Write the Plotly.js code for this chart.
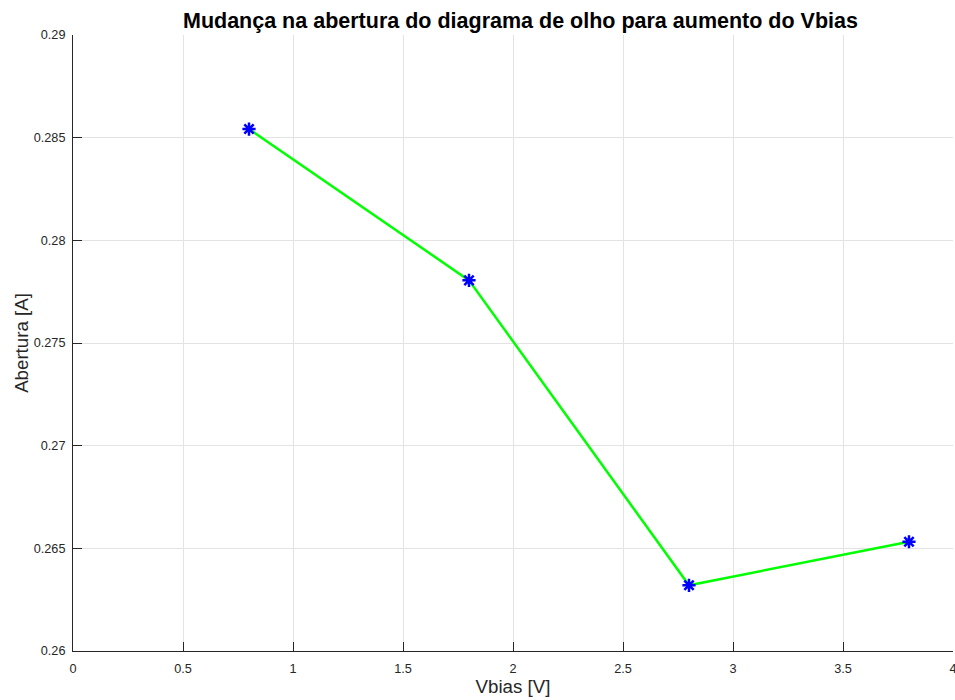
<!DOCTYPE html>
<html>
<head>
<meta charset="utf-8">
<script src="https://cdn.plot.ly/plotly-3.0.1.min.js"></script>
<style>html,body{margin:0;padding:0;background:#fff;overflow:hidden;}#chart{width:955px;height:700px;}</style>
</head>
<body>
<div id="chart"></div>
<script>
const vbias = [0.8, 1.8, 2.8, 3.8];
const abertura = [0.28542, 0.27805, 0.2632, 0.26532];
const xTicks = [0, 0.5, 1, 1.5, 2, 2.5, 3, 3.5, 4];
const xTickText = ['0', '0.5', '1', '1.5', '2', '2.5', '3', '3.5', '4'];
const yTicks = [0.26, 0.265, 0.27, 0.275, 0.28, 0.285, 0.29];
const yTickText = ['0.26', '0.265', '0.27', '0.275', '0.28', '0.285', '0.29'];

const font = 'Liberation Sans, Arial, Helvetica, sans-serif';
const data = [{
  x: vbias, y: abertura, type: 'scatter', mode: 'lines+markers',
  line: {color: '#00ff00', width: 2.5},
  marker: {symbol: 'asterisk-open', size: 11, color: '#0000ff', line: {color: '#0000ff', width: 2.5}},
  showlegend: false
}];
const axisCommon = {
  showgrid: true, gridcolor: '#e3e3e3', gridwidth: 1,
  showline: true, linecolor: '#262626', linewidth: 1,
  ticks: 'inside', ticklen: 9, tickcolor: '#262626', tickwidth: 1,
  zeroline: false, mirror: false, ticklabeloverflow: 'allow',
  tickfont: {family: font, size: 12.7, color: '#262626'}
};
const layout = {
  width: 955, height: 700,
  margin: {l: 73, r: 2, t: 35, b: 49},
  paper_bgcolor: '#fff', plot_bgcolor: '#fff',
  title: {text: 'Mudança na abertura do diagrama de olho para aumento do Vbias',
    font: {family: font, size: 21.5, color: '#000', weight: 'bold'},
    x: 0.545, xanchor: 'center', y: 0.971, yanchor: 'middle'},
  xaxis: Object.assign({}, axisCommon, {
    range: [0, 4], tickvals: xTicks, ticktext: xTickText, ticklabelstandoff: 6,
    title: {text: 'Vbias [V]', font: {family: font, size: 18.7, color: '#262626'}, standoff: 3}
  }),
  yaxis: Object.assign({}, axisCommon, {
    range: [0.26, 0.29], tickvals: yTicks, ticktext: yTickText, ticklabelstandoff: 4,
    title: {text: 'Abertura [A]', font: {family: font, size: 18.7, color: '#262626'}, standoff: 0}
  })
};
Plotly.newPlot('chart', data, layout, {displayModeBar: false, staticPlot: true});
</script>
</body>
</html>
